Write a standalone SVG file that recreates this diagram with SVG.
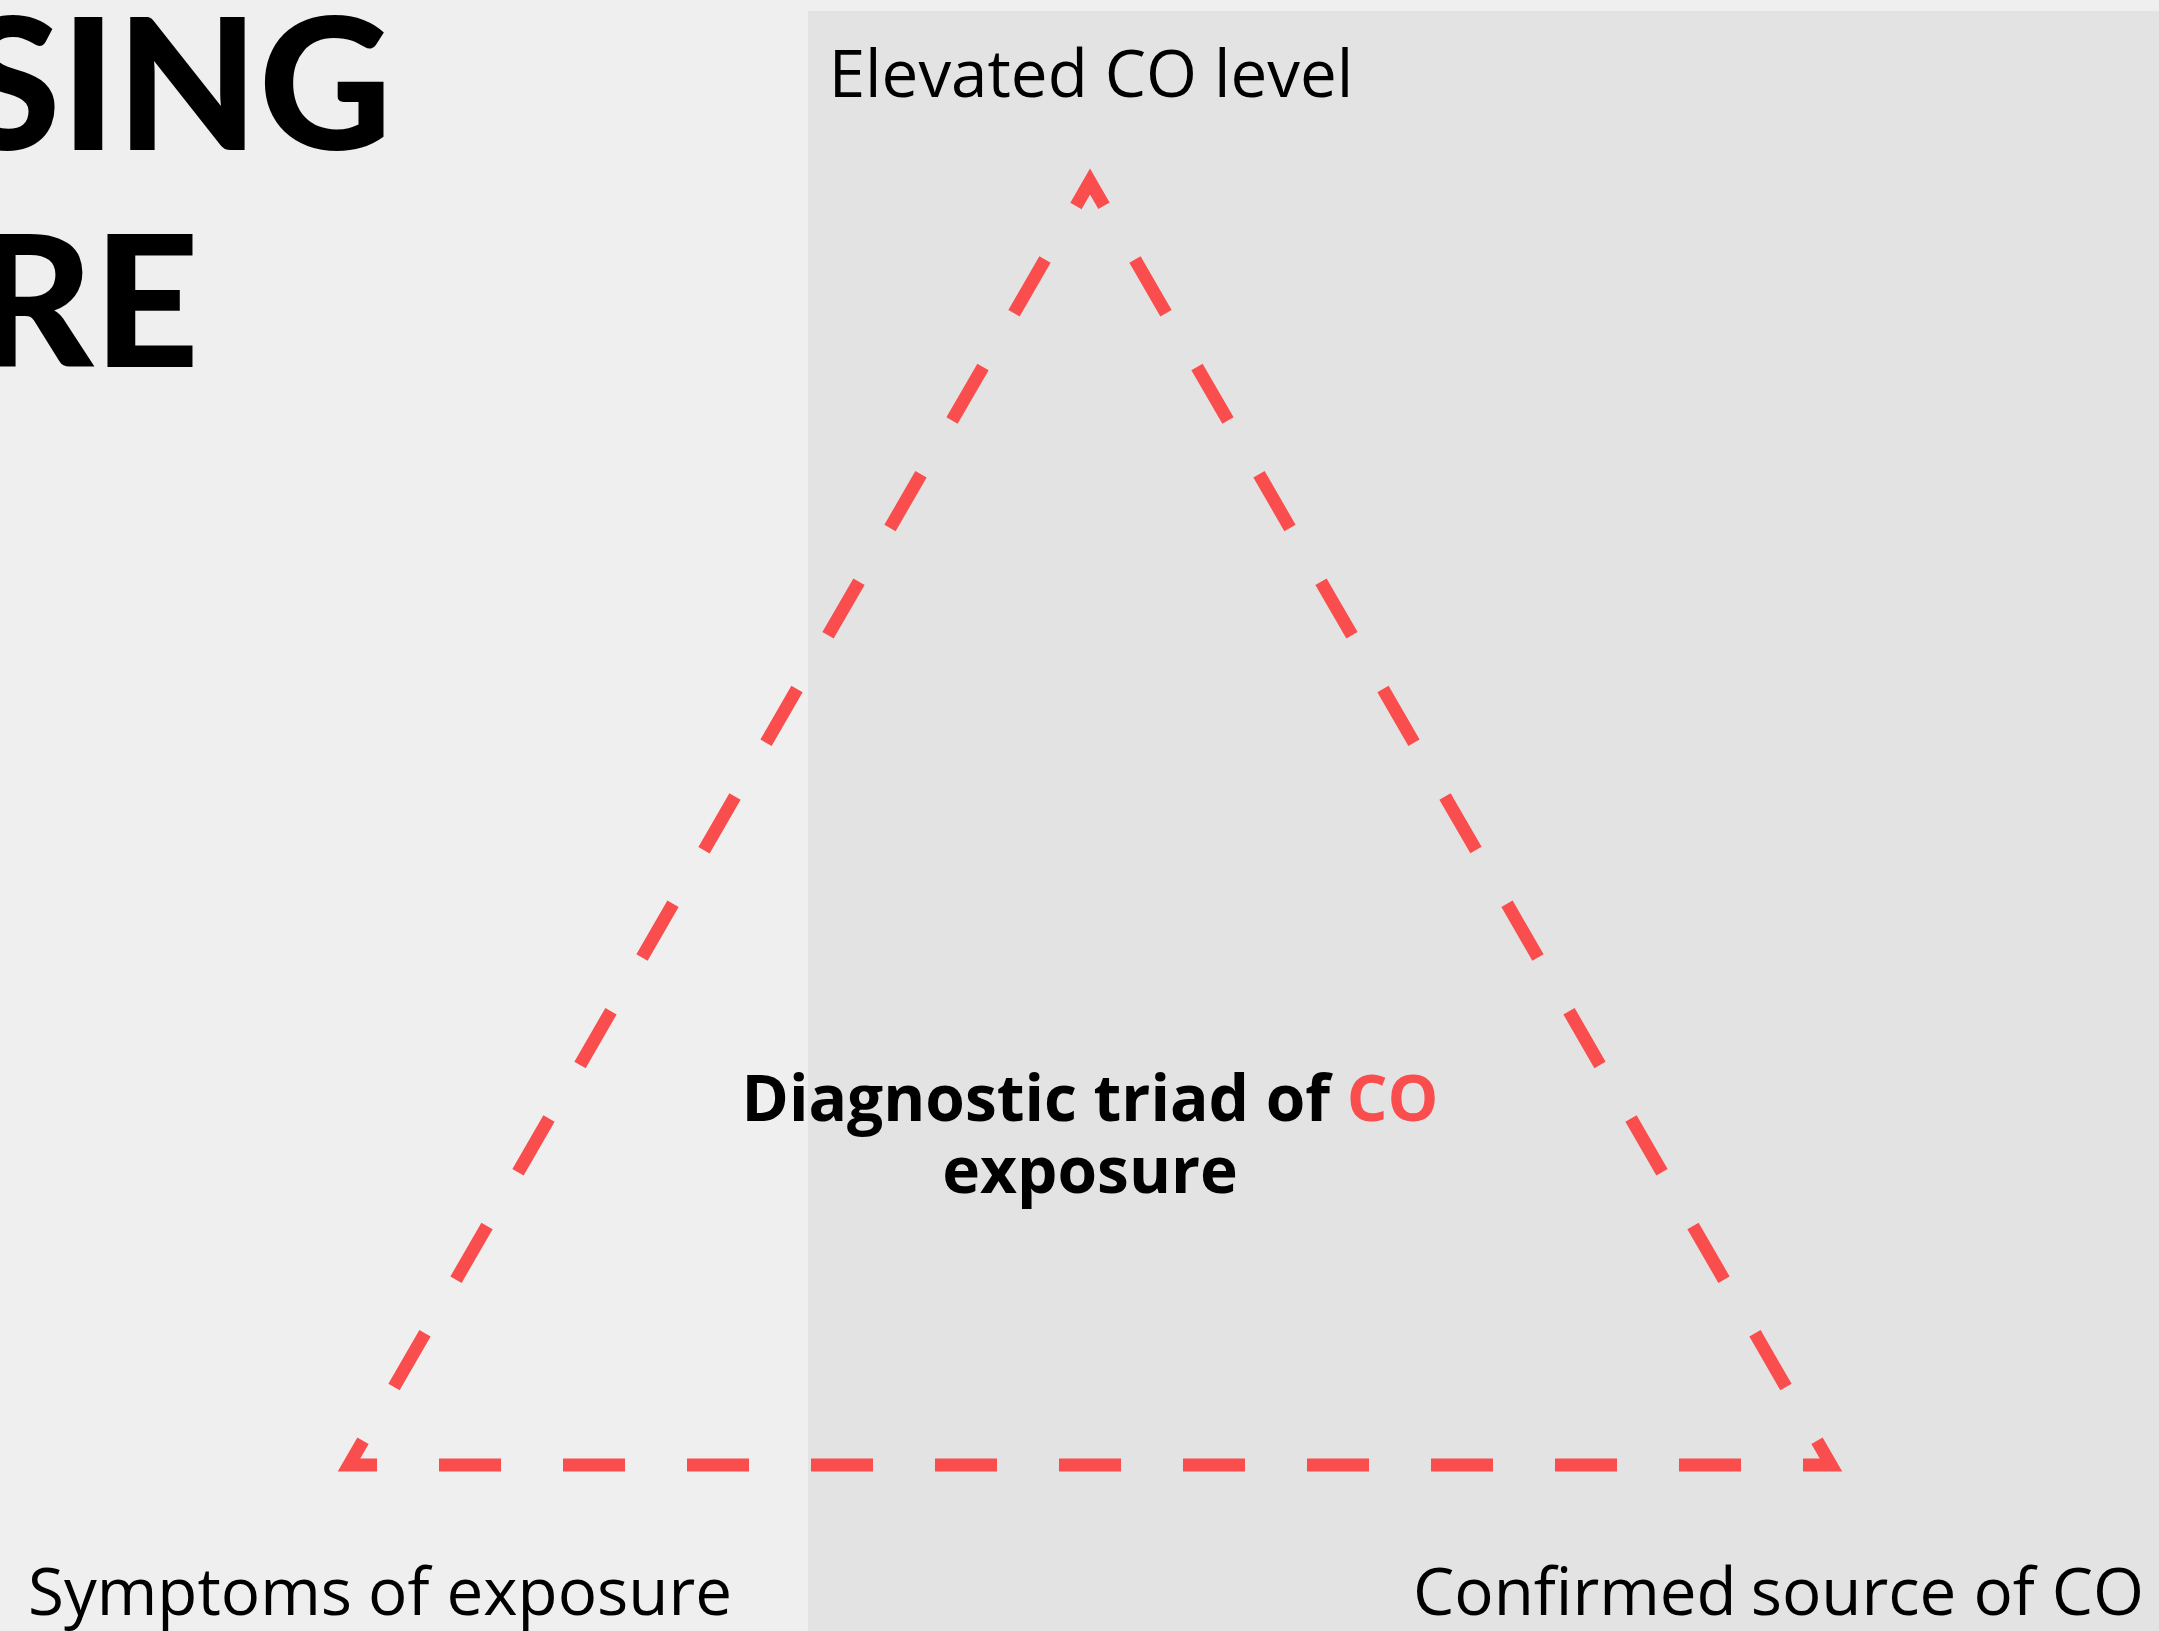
<svg xmlns="http://www.w3.org/2000/svg" width="2159" height="1631" viewBox="0 0 2159 1631">
<style>
.title{font-family:Lato,"Liberation Sans",sans-serif;font-weight:900;font-size:184px;fill:#000}
.lbl{font-family:"Open Sans","Noto Sans",sans-serif;font-size:65.5px;fill:#000}
.ctr{font-family:"Open Sans","Noto Sans",sans-serif;font-weight:700;font-size:64px;fill:#000;text-anchor:middle}
.red{fill:#fa4d4d}
.edge{fill:none;stroke:#fa4d4d;stroke-width:13;stroke-linejoin:miter;stroke-linecap:butt}
</style>
<rect x="0" y="0" width="2159" height="1631" fill="#efefef"/>
<rect x="808" y="11" width="1351" height="1620" fill="#e3e3e3"/>
<g id="title">
<text class="title" x="392" y="150" text-anchor="end">SING</text>
<text class="title" x="199" y="367" text-anchor="end">RE</text>
</g>
<g id="connectors">
<path class="edge" d="M1045,259.5 L349,1465 L1831,1465 L1090,181.6 Z" stroke-dasharray="62 62 62 62 62 62 62 62 62 62 62 62 62 62 62 62 62 62 62 62 62 62 56 62"/>
</g>
<g id="node-elevated">
<text class="lbl" x="1091" y="97" text-anchor="middle">Elevated CO level</text>
</g>
<g id="node-symptoms">
<text class="lbl" x="28" y="1615">Symptoms<tspan dx="-1"> of exposure</tspan></text>
</g>
<g id="node-source">
<text class="lbl" x="1413" y="1615">Confirmed<tspan dx="-3"> source of CO</tspan></text>
</g>
<g id="node-center">
<text class="ctr" x="1090" y="1121">Diagnostic triad of <tspan class="red">CO</tspan><tspan x="1090" dy="72">exposure</tspan></text>
</g>
</svg>
